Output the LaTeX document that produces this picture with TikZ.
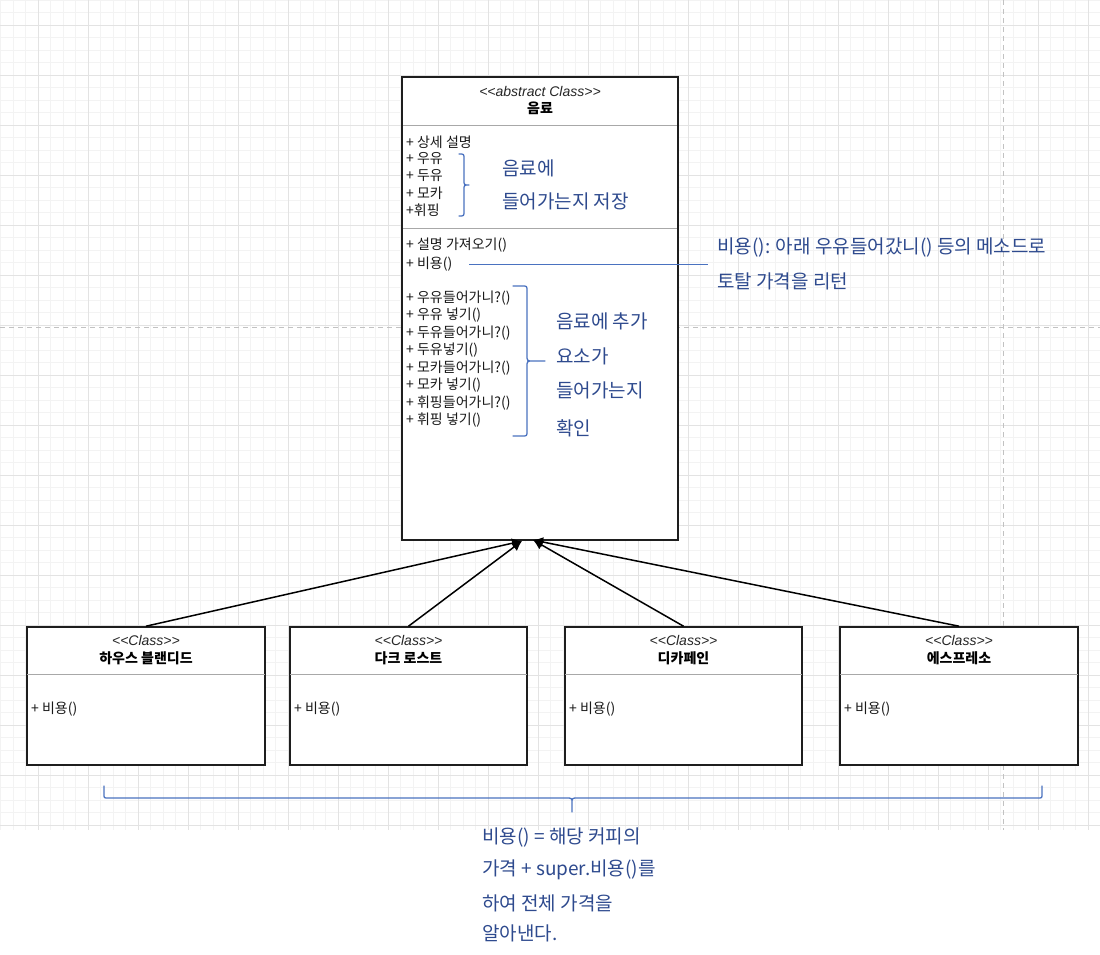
\documentclass[tikz,border=0pt]{standalone}
\usepackage{fontspec}
\setmainfont{Liberation Sans}
\newfontfamily\kr{Noto Sans CJK KR}
\usetikzlibrary{arrows.meta}
\definecolor{gridminor}{HTML}{F3F3F3}
\definecolor{gridmajor}{HTML}{E3E3E3}
\definecolor{pagedash}{HTML}{C2C2C2}
\definecolor{bracecol}{HTML}{4A72C0}
\definecolor{handcol}{HTML}{2E4A8E}
\definecolor{boxcol}{HTML}{1E1E1E}
\definecolor{sepcol}{HTML}{A8A8A8}
\newcommand{\lt}{<\kern0pt<}
\newcommand{\gt}{>\kern0pt>}
\begin{document}
\begin{tikzpicture}[x=1pt,y=-1pt,
  umlbox/.style={draw=boxcol, line width=1.6pt, fill=white, inner sep=0pt},
  sepline/.style={draw=sepcol, line width=0.9pt},
  stereo/.style={font=\fontsize{14}{16}\selectfont\itshape, text=black!85, inner sep=0pt},
  cname/.style={font=\fontsize{14}{16}\selectfont\kr\bfseries, inner sep=0pt},
  member/.style={font=\fontsize{14}{16}\selectfont\kr, anchor=west, inner sep=0pt, text=black!90},
  hand/.style={font=\fontsize{19}{21}\selectfont\kr, text=handcol, anchor=west, inner sep=0pt},
  bracepath/.style={draw=bracecol, line width=1.3pt, line cap=round, line join=round},
  inherit/.style={draw=black, line width=1.5pt, -{Latex[length=10pt,width=10pt]}},
]
\useasboundingbox (0,0) rectangle (1100,955);
\fill[white] (0,0) rectangle (1100,955);
% grid
\foreach \i in {-3,...,84} \draw[gridminor, line width=0.8pt] ({38+12.5*\i},0) -- ({38+12.5*\i},830);
\foreach \i in {0,...,66} \draw[gridminor, line width=0.8pt] (0,{12.5*\i}) -- (1100,{12.5*\i});
\foreach \i in {0,...,21} \draw[gridmajor, line width=0.9pt] ({38+50*\i},0) -- ({38+50*\i},830);
\foreach \i in {0,...,16} \draw[gridmajor, line width=0.9pt] (0,{25+50*\i}) -- (1100,{25+50*\i});
% page break lines
\draw[pagedash, line width=1pt, dash pattern=on 5pt off 4pt] (1003,0) -- (1003,830);
\draw[pagedash, line width=1pt, dash pattern=on 5pt off 4pt] (0,327) -- (1100,327);

% main abstract class
\node[umlbox, minimum width=276pt, minimum height=463pt] (main) at (540,308.5) {};
\draw[sepline] (403,125) -- (677,125);
\draw[sepline] (403,228) -- (677,228);
\node[stereo] (mstereo) at (540,91) {\lt abstract Class\gt};
\node[cname] (mname) at (540,108) {음료};
\node[member] (a1) at (406,142) {+ 상세 설명};
\node[member] (a2) at (406,159) {+ 우유};
\node[member] (a3) at (406,176) {+ 두유};
\node[member] (a4) at (406,193) {+ 모카};
\node[member] (a5) at (406,210) {+휘핑};
\node[member] (m1) at (406,245) {+ 설명 가져오기()};
\node[member] (m2) at (406,264) {+ 비용()};
\node[member] (m3) at (406,298) {+ 우유들어가니?()};
\node[member] (m4) at (406,315.5) {+ 우유 넣기()};
\node[member] (m5) at (406,333) {+ 두유들어가니?()};
\node[member] (m6) at (406,350.5) {+ 두유넣기()};
\node[member] (m7) at (406,368) {+ 모카들어가니?()};
\node[member] (m8) at (406,385.5) {+ 모카 넣기()};
\node[member] (m9) at (406,403) {+ 휘핑들어가니?()};
\node[member] (m10) at (406,420.5) {+ 휘핑 넣기()};

% braces inside main
\draw[bracepath] (459,154) .. controls (464,154) .. (464,159) -- (464,180) .. controls (464,185) .. (469,185)
  .. controls (464,185) .. (464,190) -- (464,211) .. controls (464,216) .. (459,216);
\draw[bracepath] (513,286) -- (522,286) .. controls (527,286) .. (527,291) -- (527,355) .. controls (527,361) .. (533,361) -- (545,361)
  (533,361) .. controls (527,361) .. (527,367) -- (527,431) .. controls (527,436) .. (522,436) -- (513,436);

\node[hand] (h1) at (502,168) {음료에};
\node[hand] (h2) at (502,201) {들어가는지 저장};
\node[hand] (h3) at (556,321) {음료에 추가};
\node[hand] (h4) at (556,356) {요소가};
\node[hand] (h5) at (556,390) {들어가는지};
\node[hand] (h6) at (556,428) {확인};

% cost annotation
\coordinate (costA) at (469,264.5);
\coordinate (costB) at (708,264.5);
\draw[draw=bracecol, line width=1pt] (costA) -- (costB);
\node[hand] (n1) at (717,247) {비용(): 아래 우유들어갔니() 등의 메소드로};
\node[hand] (n2) at (717,281) {토탈 가격을 리턴};

% subclasses
\node[umlbox, minimum width=238pt, minimum height=138pt] (s1) at (146,696) {};
\node[umlbox, minimum width=237pt, minimum height=138pt] (s2) at (408.5,696) {};
\node[umlbox, minimum width=237pt, minimum height=138pt] (s3) at (683.5,696) {};
\node[umlbox, minimum width=238pt, minimum height=138pt] (s4) at (959,696) {};
\foreach \n in {s1,s2,s3,s4} \draw[sepline] ([xshift=1pt,yshift=-48pt]\n.north west) -- ([xshift=-1pt,yshift=-48pt]\n.north east);

\node[stereo] (s1st) at (146,640) {\lt Class\gt};
\node[cname] (s1nm) at (146,658) {하우스 블랜디드};
\node[member] (s1m) at (31,709) {+ 비용()};
\node[stereo] (s2st) at (408.5,640) {\lt Class\gt};
\node[cname] (s2nm) at (408.5,658) {다크 로스트};
\node[member] (s2m) at (294,709) {+ 비용()};
\node[stereo] (s3st) at (683.5,640) {\lt Class\gt};
\node[cname] (s3nm) at (683.5,658) {디카페인};
\node[member] (s3m) at (569,709) {+ 비용()};
\node[stereo] (s4st) at (959,640) {\lt Class\gt};
\node[cname] (s4nm) at (959,658) {에스프레소};
\node[member] (s4m) at (844,709) {+ 비용()};

% inheritance arrows
\coordinate (tipL) at (522,541);
\coordinate (tipR) at (533,540);
\draw[inherit] (s1.north) -- (tipL);
\draw[inherit] (s2.north) -- (tipL);
\draw[inherit] (s3.north) -- (tipR);
\draw[inherit] (s4.north) -- (tipR);

% bottom brace
\draw[bracepath] (104,786) -- (104,794) .. controls (104,798) .. (108,798) -- (566,798) .. controls (572,798) .. (572,803) -- (572,812)
  (572,803) .. controls (572,798) .. (578,798) -- (1038,798) .. controls (1042,798) .. (1042,794) -- (1042,786);

\node[hand] (b1) at (482,837) {비용() = 해당 커피의};
\node[hand] (b2) at (482,870) {가격 + super.비용()를};
\node[hand] (b3) at (482,903) {하여 전체 가격을};
\node[hand] (b4) at (482,933) {알아낸다.};
\end{tikzpicture}
\end{document}
